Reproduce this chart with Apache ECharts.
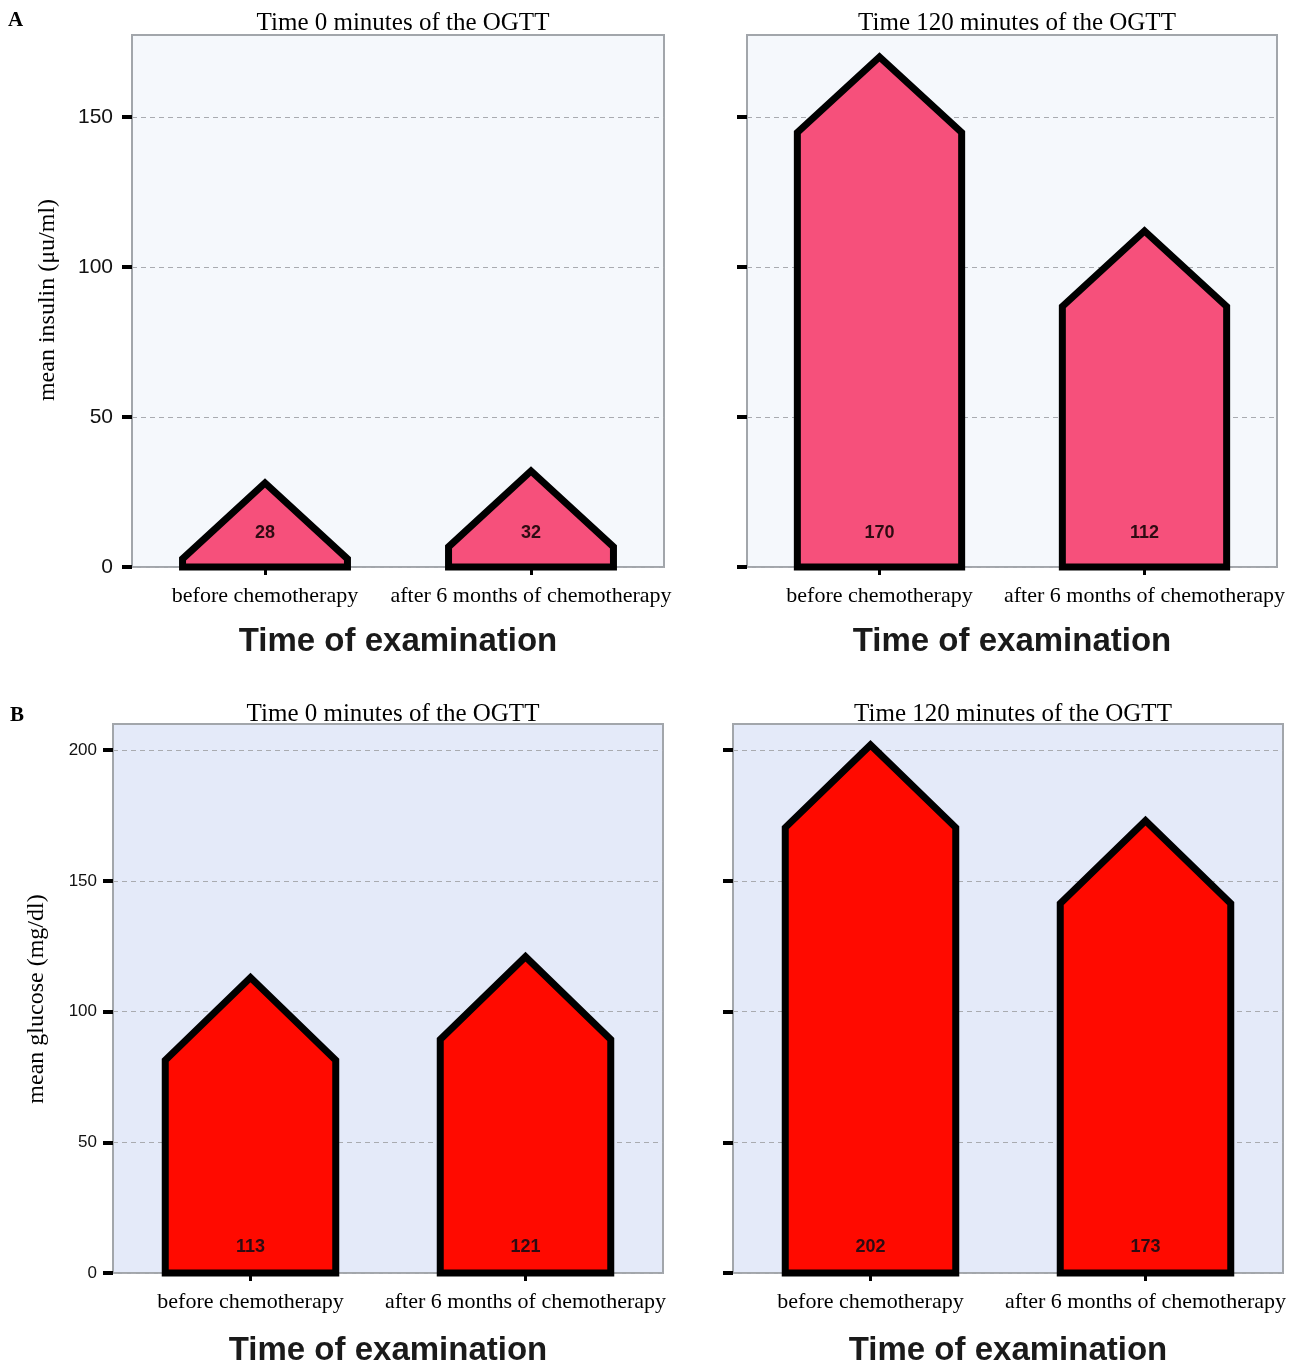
<!DOCTYPE html>
<html><head><meta charset="utf-8">
<script src="https://cdn.jsdelivr.net/npm/echarts@6/dist/echarts.min.js"></script>
<style>html,body{margin:0;padding:0;background:#fff}#c{width:1289px;height:1364px}</style>
</head><body><div id="c"></div>
<script>
// ---- data ----
const categories = ['before chemotherapy', 'after 6 months of chemotherapy'];
const insulin0 = [28, 32];
const insulin120 = [170, 112];
const glucose0 = [113, 121];
const glucose120 = [202, 173];
const insulinTicks = [0, 50, 100, 150];
const glucoseTicks = [0, 50, 100, 150, 200];
const panelTitles = ['Time 0 minutes of the OGTT', 'Time 120 minutes of the OGTT'];
const xName = 'Time of examination';
const insulinName = 'mean insulin (\u03bcu/ml)';
const glucoseName = 'mean glucose (mg/dl)';

// ---- layout / style ----
const SERIF = '"Liberation Serif", "Times New Roman", serif';
const SANS = '"Liberation Sans", Arial, sans-serif';
const panels = [
  {grid:{left:132, top:35, width:532, height:532}, max:177.3, ticks:insulinTicks, data:insulin0, title:panelTitles[0], labels:true, bg:'#f5f8fc', fill:'#f6507b', roof:0.92, labOff:34, fs:21, lm:19, tt:29, ng:58},
  {grid:{left:747, top:35, width:530, height:532}, max:177.3, ticks:insulinTicks, data:insulin120, title:panelTitles[1], labels:false, bg:'#f5f8fc', fill:'#f6507b', roof:0.92, labOff:34, fs:21, lm:19, tt:29, ng:58},
  {grid:{left:113, top:724, width:550, height:549}, max:210, ticks:glucoseTicks, data:glucose0, title:panelTitles[0], labels:true, bg:'#e4eaf9', fill:'#ff0a00', roof:0.97, labOff:26, fs:17, lm:16, tt:27, ng:61},
  {grid:{left:733, top:724, width:550, height:549}, max:210, ticks:glucoseTicks, data:glucose120, title:panelTitles[1], labels:false, bg:'#e4eaf9', fill:'#ff0a00', roof:0.97, labOff:26, fs:17, lm:16, tt:27, ng:61}
];

const grids = [], xAxes = [], yAxes = [], series = [], titles = [];
panels.forEach((p, k) => {
  grids.push(Object.assign({show:true, backgroundColor:p.bg, borderColor:'#a2a6ab', borderWidth:2,
    containLabel:false, outerBoundsMode:'none'}, p.grid));
  xAxes.push({
    type:'category', gridIndex:k, data:categories,
    axisLine:{show:false},
    axisTick:{show:true, alignWithLabel:true, length:8, lineStyle:{color:'#000', width:3}},
    axisLabel:{interval:0, fontFamily:SERIF, fontSize:22, color:'#000', margin:18},
    name:xName, nameLocation:'middle', nameGap:p.ng,
    nameTextStyle:{fontFamily:SANS, fontWeight:'bold', fontSize:33, color:'#1a1a1a'}
  });
  yAxes.push({
    type:'value', gridIndex:k, min:0, max:p.max,
    axisLine:{show:false},
    axisTick:{show:true, customValues:p.ticks, length:10, lineStyle:{color:'#000', width:4}},
    axisLabel:{show:p.labels, customValues:p.ticks, fontFamily:SANS, fontSize:p.fs, color:'#111', margin:p.lm},
    splitLine:{show:true, lineStyle:{color:'#a9abb0', type:[5,4], width:1}}
  });
  titles.push({text:p.title, left:p.grid.left + p.grid.width/2, top:p.grid.top - p.tt, textAlign:'center',
    textStyle:{fontFamily:SERIF, fontWeight:'normal', fontSize:25, color:'#000'}});
  const fill = p.fill, roof = p.roof, labOff = p.labOff;
  series.push({
    type:'custom', xAxisIndex:k, yAxisIndex:k,
    data:p.data.map((v, i) => [i, v]),
    encode:{x:0, y:1},
    renderItem:function(params, api){
      const i = api.value(0), v = api.value(1);
      const top = api.coord([i, v]);
      const base = api.coord([i, 0]);
      const hw = api.size([1, 0])[0] * 0.62 / 2;
      const cx = top[0];
      let sh = top[1] + hw * roof;
      if (sh > base[1]) sh = base[1];
      const pts = [[cx - hw, base[1]], [cx - hw, sh], [cx, top[1]], [cx + hw, sh], [cx + hw, base[1]]];
      return {type:'group', children:[
        {type:'polygon', shape:{points:pts}, style:{fill:fill, stroke:'#000', lineWidth:7, lineJoin:'miter'}},
        {type:'text', x:cx, y:base[1] - labOff, style:{text:String(v), align:'center', verticalAlign:'middle',
          font:'bold 18px ' + SANS, fill:'#2e0b12'}}
      ]};
    }
  });
});

const chart = echarts.init(document.getElementById('c'), null, {renderer:'canvas'});
chart.setOption({
  animation:false,
  backgroundColor:'#fff',
  title:titles,
  grid:grids, xAxis:xAxes, yAxis:yAxes, series:series,
  graphic:[
    {type:'text', left:8, top:10, style:{text:'A', font:'bold 21px ' + SERIF, fill:'#000'}},
    {type:'text', left:10, top:705, style:{text:'B', font:'bold 21px ' + SERIF, fill:'#000'}},
    {type:'text', x:48, y:300, rotation:Math.PI/2, style:{text:insulinName, font:'24px ' + SERIF, fill:'#000', align:'center', verticalAlign:'middle'}},
    {type:'text', x:37, y:999, rotation:Math.PI/2, style:{text:glucoseName, font:'24px ' + SERIF, fill:'#000', align:'center', verticalAlign:'middle'}}
  ]
});
</script></body></html>
